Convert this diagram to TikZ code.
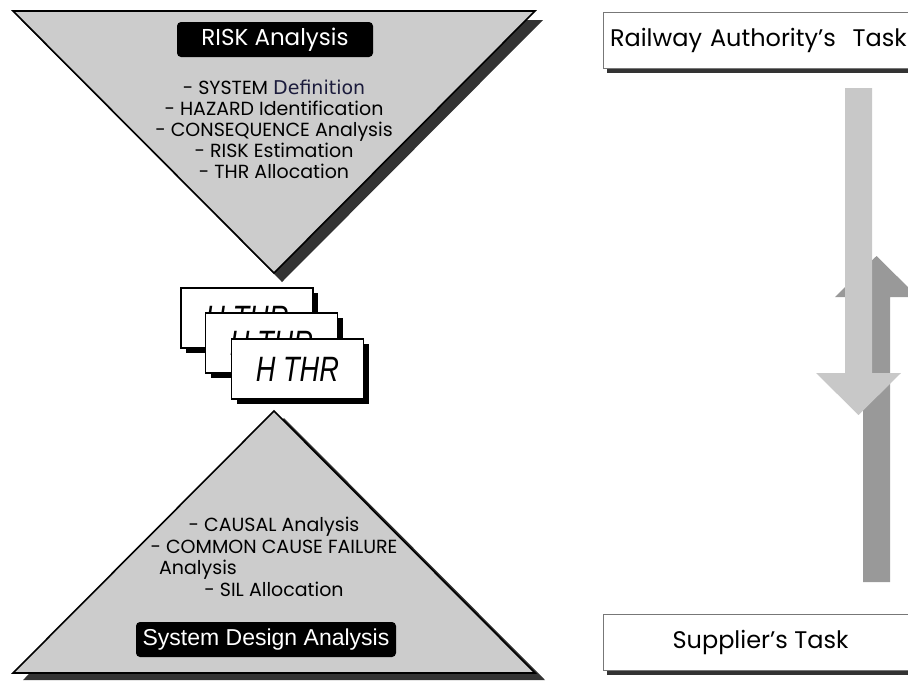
\documentclass[tikz,border=0pt]{standalone}
\usepackage{fontspec}
\setmainfont{Poppins}
\newfontfamily\arialfont{Liberation Sans}
\newfontfamily\defnfont{DejaVu Sans}
\usetikzlibrary{positioning, shadows}

\definecolor{trigray}{HTML}{CCCCCC}
\definecolor{shadegray}{HTML}{333333}
\definecolor{boxgray}{HTML}{777777}
\definecolor{downgray}{HTML}{C8C8C8}
\definecolor{upgray}{HTML}{999999}
\definecolor{defnblue}{HTML}{1B1B3C}

\begin{document}
\begin{tikzpicture}[x=1pt, y=-1pt,
	tri/.style		={fill=trigray, draw=black, line width=1.6pt},
	trishade/.style	={fill=shadegray},
	headbox/.style	={fill=black, text=white, rounded corners=4pt, inner sep=0pt, minimum height=35pt},
	listtext/.style	={align=center, font=\fontsize{19}{21}\selectfont},
	card/.style		={draw=black, fill=white, line width=1.5pt, inner sep=0pt,
					  minimum width=132pt, minimum height=60pt,
					  drop shadow={shadow xshift=5pt, shadow yshift=-5pt, opacity=1, fill=black},
					  font=\arialfont\itshape\fontsize{32}{32}\selectfont},
	taskbox/.style	={draw=boxgray, fill=white, line width=1pt, inner sep=0pt,
					  minimum width=315pt, minimum height=56pt,
					  drop shadow={shadow xshift=4pt, shadow yshift=-5pt, opacity=1, fill=shadegray},
					  font=\fontsize{24}{28}\selectfont}]
	\clip (0,0) rectangle (908,683);

	% risk analysis (top)
	\fill[trishade, shift={(8,9)}] (13,11) -- (535,11) -- (274,273) -- cycle;
	\draw[tri] (13,11) -- (535,11) -- (274,273) -- cycle;
	\node[headbox, minimum width=196pt, font=\fontsize{23}{26}\selectfont]
					(riskhead)	at (275,39.5)	{RISK Analysis};
	\node[listtext]	(risklist)	at (274,129)	{- SYSTEM {\defnfont\color{defnblue}Definition}\\
												 - HAZARD Identification\\
												 - CONSEQUENCE Analysis\\
												 - RISK Estimation\\
												 - THR Allocation};

	% system design analysis (bottom)
	\fill[trishade, shift={(10,7)}] (274,411) -- (535,673) -- (13,673) -- cycle;
	\draw[tri] (274,411) -- (535,673) -- (13,673) -- cycle;
	\node[listtext, font=\fontsize{19}{21.5}\selectfont]
					(designlist) at (274,557)	{- CAUSAL Analysis\\
												 - COMMON CAUSE FAILURE\\
												 Analysis\rule{152pt}{0pt}\\
												 - SIL Allocation};
	\node[headbox, minimum width=260pt, font=\arialfont\fontsize{23}{26}\selectfont]
					(designhead) at (266,639.5)	{System Design Analysis};

	% hazard cards
	\node[card]	(card1)	at (247,318)						{\scalebox{0.85}[1.1]{H THR}};
	\node[card]	(card2)	at ([shift={(24.5,25)}]card1.center)	{\scalebox{0.85}[1.1]{H THR}};
	\node[card]	(card3)	at ([shift={(26,26)}]card2.center)	{\scalebox{0.85}[1.1]{H THR}};

	% tasks
	\node[taskbox, text width=301pt, align=left]
				(railway)	at (760.5,40)	{Railway Authority's\hspace{0.7em}Task};
	\node[taskbox]	(supplier)	at (760.5,642)	{Supplier's Task};

	% arrows between the tasks
	\fill[upgray]	(863,582) -- (890,582) -- (890,297) -- (918,297) -- (876.5,256)
					-- (835,297) -- (863,297) -- cycle;
	\fill[downgray]	(845,88) -- (872,88) -- (872,373) -- (901,373) -- (858.5,415)
					-- (816,373) -- (845,373) -- cycle;
\end{tikzpicture}
\end{document}
